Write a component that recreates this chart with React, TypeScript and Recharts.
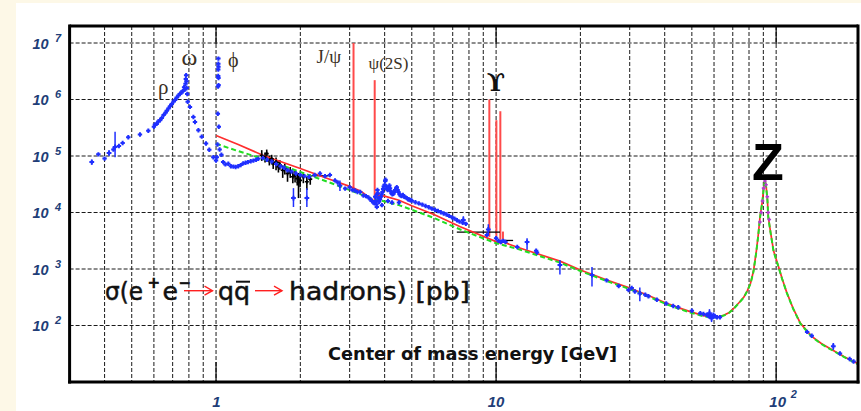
import React from "react";
import {
  ComposedChart,
  XAxis,
  YAxis,
  CartesianGrid,
  Line,
  Scatter,
  ErrorBar,
  ReferenceLine,
} from "recharts";

// ---------- axes ----------
const X_DOMAIN: [number, number] = [0.3, 196];
const Y_DOMAIN: [number, number] = [10, 2e7];
const xGridTicks = [0.4, 0.5, 0.6, 0.7, 0.8, 0.9, 1, 2, 3, 4, 5, 6, 7, 8, 9, 10, 20, 30, 40, 50, 60, 70, 80, 90, 100];
const xMajorTicks = [1, 10, 100];
const yDecadeTicks = [1e2, 1e3, 1e4, 1e5, 1e6, 1e7];
const yMinorTicks = [
  20, 30, 40, 50, 60, 70, 80, 90,
  200, 300, 400, 500, 600, 700, 800, 900,
  2000, 3000, 4000, 5000, 6000, 7000, 8000, 9000,
  2e4, 3e4, 4e4, 5e4, 6e4, 7e4, 8e4, 9e4,
  2e5, 3e5, 4e5, 5e5, 6e5, 7e5, 8e5, 9e5,
  2e6, 3e6, 4e6, 5e6, 6e6, 7e6, 8e6, 9e6,
];

// ---------- data: [E (GeV), sigma (pb)] ----------
const blueData: [number, number][] = [
  [0.38, 1.07e5], [0.40, 9.0e4], [0.43, 1.3e5], [0.45, 1.5e5], [0.464, 1.7e5], [0.486, 2.15e5],
  [0.535, 2.4e5], [0.573, 2.8e5], [0.60, 3.3e5], [0.605, 3.6e5], [0.614, 3.7e5], [0.622, 4.1e5],
  [0.631, 4.3e5], [0.64, 4.7e5], [0.65, 5.3e5], [0.66, 5.8e5], [0.667, 6.3e5], [0.676, 6.9e5],
  [0.685, 7.6e5], [0.695, 8.3e5], [0.705, 9.2e5], [0.714, 9.8e5], [0.724, 1.08e6], [0.734, 1.18e6],
  [0.744, 1.26e6], [0.752, 1.33e6], [0.76, 1.4e6], [0.769, 1.65e6], [0.774, 1.5e6], [0.778, 1.9e6],
  [0.780, 2.3e6], [0.782, 2.7e6], [0.784, 2.1e6], [0.786, 1.6e6], [0.789, 1.25e6], [0.792, 9.1e5],
  [0.807, 7.4e5], [0.83, 4.9e5], [0.841, 4.0e5], [0.865, 2.85e5], [0.889, 2.2e5], [0.921, 1.66e5],
  [0.946, 1.29e5], [0.978, 9.5e4], [1.0, 8.3e4],
  [1.006, 9.5e4], [1.012, 1.6e5], [1.015, 5.6e5], [1.017, 1.7e6], [1.018, 2.6e6], [1.0185, 3.4e6],
  [1.019, 4.3e6], [1.0195, 5.3e6], [1.020, 3.8e6], [1.0205, 2.4e6], [1.021, 1.8e6], [1.023, 3.3e5],
  [1.03, 1.3e5], [1.045, 1.05e5],
  [1.06, 7.8e4], [1.08, 7.1e4], [1.106, 7.3e4], [1.13, 6.6e4], [1.153, 6.5e4], [1.175, 6.4e4],
  [1.2, 6.6e4], [1.225, 6.9e4], [1.25, 7.4e4], [1.275, 7.6e4], [1.30, 7.8e4], [1.33, 8.1e4],
  [1.36, 8.3e4], [1.39, 8.6e4], [1.415, 8.9e4],
  [1.47, 9.2e4], [1.52, 8.6e4], [1.58, 8.0e4], [1.64, 7.2e4], [1.7, 6.6e4], [1.75, 6.2e4],
  [1.80, 5.6e4], [1.86, 5.3e4], [1.93, 4.9e4], [2.0, 4.6e4], [2.07, 4.4e4], [2.15, 4.3e4],
  [2.25, 4.6e4], [2.35, 4.9e4], [2.45, 4.4e4], [2.55, 4.6e4], [2.66, 3.7e4], [2.72, 3.4e4],
  [2.89, 2.65e4], [3.0, 2.8e4], [3.07, 2.5e4], [3.13, 2.45e4], [3.2, 2.3e4], [3.27, 2.3e4],
  [3.36, 2.0e4], [3.43, 1.95e4], [3.50, 1.85e4], [3.56, 1.7e4], [3.60, 1.6e4], [3.65, 1.5e4],
  [3.68, 1.45e4], [3.70, 1.9e4], [3.72, 1.6e4], [3.74, 1.4e4], [3.75, 1.25e4], [3.76, 2.1e4],
  [3.77, 2.5e4], [3.78, 2.2e4], [3.80, 1.8e4], [3.82, 1.55e4], [3.85, 1.7e4], [3.88, 1.9e4],
  [3.90, 2.1e4], [3.91, 1.35e4], [3.93, 2.3e4], [3.95, 2.6e4], [3.97, 2.9e4], [4.0, 3.1e4],
  [4.02, 3.6e4], [4.03, 3.8e4], [4.05, 2.9e4], [4.08, 2.6e4], [4.10, 2.5e4], [4.11, 1.6e4],
  [4.13, 2.8e4], [4.16, 3.0e4], [4.18, 2.7e4], [4.2, 2.4e4], [4.23, 2.2e4], [4.25, 1.5e4],
  [4.26, 2.1e4], [4.3, 2.15e4], [4.33, 2.3e4], [4.36, 2.5e4], [4.40, 2.7e4], [4.42, 2.8e4],
  [4.45, 2.5e4], [4.48, 2.3e4], [4.5, 1.5e4], [4.52, 2.1e4], [4.56, 2.0e4], [4.6, 1.95e4],
  [4.65, 2.05e4], [4.70, 1.9e4], [4.75, 1.85e4], [4.8, 1.8e4], [4.85, 1.72e4], [4.9, 1.7e4],
  [4.95, 1.65e4],
  [5.0, 1.62e4], [5.15, 1.52e4], [5.3, 1.45e4], [5.45, 1.38e4], [5.6, 1.3e4], [5.75, 1.24e4],
  [5.9, 1.17e4], [6.05, 1.12e4], [6.2, 1.06e4], [6.35, 1.01e4], [6.5, 9.6e3], [6.65, 9.2e3],
  [6.8, 8.7e3], [6.95, 8.2e3], [7.1, 7.8e3], [7.25, 7.3e3], [7.4, 6.9e3], [7.6, 6.6e3], [7.8, 6.3e3],
  [9.27, 4.0e3], [10.0, 3.5e3], [10.2, 3.15e3], [10.4, 3.0e3], [10.6, 3.15e3], [10.8, 3.0e3],
  [11.9, 2.45e3], [13.9, 2.1e3], [14.0, 1.95e3],
  [24.8, 6.3e2], [27.4, 5.0e2], [29.7, 4.25e2], [30.5, 4.6e2], [31.3, 4.0e2], [34.1, 3.5e2],
  [35.0, 3.3e2], [37.5, 2.85e2], [40.5, 2.45e2], [42.9, 2.22e2], [44.7, 2.1e2], [50.0, 1.82e2],
  [53.6, 1.65e2], [55.0, 1.6e2], [56.5, 1.55e2], [57.5, 1.45e2], [58.3, 1.5e2], [59.2, 1.42e2],
  [59.7, 1.55e2], [60.5, 1.45e2], [61.5, 1.4e2], [63.0, 1.4e2],
  [129, 77], [134, 66], [169, 32], [183, 25.5], [189, 23],
];

// [E, sigma, errLow, errHigh]
const blueErrData: [number, number, number, number][] = [
  [0.36, 7.8e4, 0.8e4, 0.9e4], [0.415, 1.13e5, 1.2e4, 1.4e4], [0.436, 1.45e5, 5.0e4, 1.25e5],
  [1.89, 1.8e4, 5.5e3, 9.0e3], [2.11, 1.8e4, 5.5e3, 9.0e3], [2.77, 3.0e4, 6.0e3, 7.0e3],
  [7.64, 7.4e3, 1.0e3, 1.2e3], [9.38, 5.0e3, 1.0e3, 1.2e3], [12.9, 3.0e3, 8.0e2, 5.0e2],
  [16.9, 1.18e3, 3.8e2, 2.7e2], [22.0, 7.8e2, 2.9e2, 3.1e2], [32.6, 3.7e2, 1.0e2, 1.0e2],
  [57.8, 1.65e2, 3.0e1, 3.0e1], [58.8, 1.35e2, 2.0e1, 2.0e1], [160, 43, 6, 6],
];

const blackErrData: [number, number, number, number][] = [
  [1.456, 1.02e5, 2.0e4, 2.5e4], [1.496, 9.5e4, 1.8e4, 2.0e4], [1.517, 1.1e5, 2.0e4, 2.0e4],
  [1.55, 8.3e4, 1.5e4, 1.8e4], [1.58, 8.9e4, 1.8e4, 1.6e4], [1.60, 7.4e4, 1.5e4, 1.8e4],
  [1.638, 7.8e4, 2.2e4, 1.6e4], [1.67, 6.5e4, 1.4e4, 1.6e4], [1.69, 6.9e4, 1.2e4, 1.5e4],
  [1.73, 5.6e4, 1.5e4, 1.2e4], [1.76, 6.0e4, 1.3e4, 1.3e4], [1.80, 4.9e4, 1.4e4, 1.1e4],
  [1.84, 5.2e4, 1.1e4, 1.2e4], [1.88, 4.3e4, 1.0e4, 1.0e4], [1.915, 4.6e4, 1.2e4, 1.0e4],
  [1.95, 4.0e4, 1.0e4, 1.0e4], [1.97, 3.4e4, 1.6e4, 1.6e4], [1.995, 3.7e4, 9.0e3, 9.0e3],
  [2.05, 4.3e4, 1.0e4, 8.0e3], [2.11, 3.5e4, 1.0e4, 8.0e3], [2.17, 3.9e4, 8.0e3, 8.0e3],
];

const zPeakData: [number, number][] = [
  [87.5, 6.8e3], [88.5, 1.0e4], [89.4, 1.6e4], [90.2, 2.7e4], [91.2, 3.6e4], [92.0, 3.1e4],
  [93.0, 1.9e4], [93.7, 1.0e4], [94.5, 7.5e3],
];

// horizontal error bars: [Emin, Emax, sigma]
const hSegments: [number, number, number][] = [
  [2.17, 2.55, 4.47e4],
  [7.24, 10.33, 4.5e3],
  [10.45, 11.5, 3.2e3],
];

const redCurve: [number, number][] = [
  [1.0, 2.3e5], [1.2, 1.6e5], [1.475, 1.02e5], [2.0, 6.0e4], [2.5, 4.0e4], [3.0, 2.9e4],
  [3.3, 2.35e4], [3.6, 1.7e4], [3.74, 1.48e4], [3.8, 2.0e4], [4.0, 1.95e4], [4.5, 1.65e4],
  [5.0, 1.32e4], [6.0, 9.2e3], [7.45, 5.6e3], [10.0, 3.05e3], [10.4, 2.85e3], [10.6, 3.0e3],
  [12, 2.4e3], [16.9, 1.38e3], [20, 9.6e2], [25, 6.3e2], [29.7, 4.7e2], [35, 3.4e2],
  [40, 2.55e2], [45, 2.05e2], [49.3, 1.76e2], [55, 1.5e2], [58.8, 1.42e2], [62, 1.43e2],
  [65, 1.52e2], [68, 1.7e2], [70.5, 2.0e2], [73.5, 2.5e2], [76.7, 3.2e2], [79, 4.2e2],
  [81, 5.6e2], [83, 9.2e2], [85, 2.1e3], [86.3, 4.0e3], [87.5, 8.0e3], [89.4, 1.66e4],
  [90.3, 2.8e4], [91.2, 3.8e4], [92.1, 2.9e4], [93.1, 1.66e4], [93.7, 8.5e3], [95.5, 4.5e3],
  [97.9, 2.1e3], [102, 1.1e3], [105, 6.8e2], [109, 3.9e2], [115, 2.0e2], [122, 1.1e2],
  [134, 64], [145, 48], [160, 36], [175, 28], [196, 21],
];

const greenCurve: [number, number][] = [
  [1.0, 1.65e5], [1.2, 1.22e5], [1.5, 8.7e4], [2.0, 5.2e4], [2.5, 3.5e4], [3.0, 2.5e4],
  [3.5, 1.85e4], [3.72, 1.62e4], [3.8, 1.68e4], [4.5, 1.35e4], [5.0, 1.12e4], [6.0, 8.0e3],
  [7.45, 5.0e3], [10.0, 2.85e3], [12, 2.25e3], [16.9, 1.3e3], [20, 9.2e2], [25, 6.05e2],
  [29.7, 4.5e2], [35, 3.25e2], [40, 2.45e2], [45, 1.97e2], [49.3, 1.7e2], [55, 1.46e2],
  [58.8, 1.38e2], [62, 1.4e2], [65, 1.5e2], [68, 1.68e2], [70.5, 1.97e2], [73.5, 2.47e2],
  [76.7, 3.15e2], [79, 4.15e2], [81, 5.5e2], [83, 9.0e2], [85, 2.05e3], [86.3, 3.9e3],
  [87.5, 7.8e3], [89.4, 1.62e4], [90.3, 2.75e4], [91.2, 3.7e4], [92.1, 2.85e4], [93.1, 1.62e4],
  [93.7, 8.3e3], [95.5, 4.4e3], [97.9, 2.05e3], [102, 1.08e3], [105, 6.7e2], [109, 3.85e2],
  [115, 1.98e2], [122, 1.08e2], [134, 63], [145, 47], [160, 35.5], [175, 27.5], [196, 20.5],
];

// narrow resonances: [mass (GeV), sigma at base, sigma at peak]
const resonances: [number, number, number][] = [
  [3.097, 2.5e4, 1.0e7],
  [3.686, 1.55e4, 2.2e6],
  [9.46, 3.7e3, 1.0e6],
  [10.023, 3.4e3, 4.3e5],
  [10.355, 3.3e3, 6.2e5],
  [10.58, 3.4e3, 4.6e3],
];

// ---------- helpers ----------
const pts = (a: [number, number][]) => a.map(([x, y]) => ({ x, y }));
const errPts = (a: [number, number, number, number][]) =>
  a.map(([x, y, lo, hi]) => ({ x, y, err: [lo, hi] }));

const cross = (color: string, arm: number, sw: number) => (props: any) => {
  const { cx, cy } = props;
  if (cx == null || cy == null || isNaN(cx) || isNaN(cy)) return <g />;
  return (
    <path
      d={`M${cx - arm},${cy}H${cx + arm}M${cx},${cy - arm}V${cy + arm}`}
      stroke={color}
      strokeWidth={sw}
      fill="none"
    />
  );
};

const PLOT_H = 356;
const TICK_COLOR = "#213d77";
const TICK_FONT = "'Liberation Sans', Arial, sans-serif";

const YTick = (props: any) => {
  const { x, y, payload } = props;
  const exp = Math.round(Math.log10(payload.value));
  return (
    <g fill={TICK_COLOR} fontFamily={TICK_FONT} fontWeight="bold" fontStyle="italic">
      <text x={x - 21} y={y + 5.5} textAnchor="end" fontSize={14.5}>10</text>
      <text x={x - 14.5} y={y - 1.5} fontSize={11}>{exp}</text>
    </g>
  );
};

const XTick = (props: any) => {
  const { x, y, payload } = props;
  const v = payload.value;
  let label: React.ReactNode = null;
  if (v === 1) {
    label = <text x={x + 0.5} y={y + 24.5} textAnchor="middle" fontSize={15}>1</text>;
  } else if (v === 10) {
    label = <text x={x} y={y + 24.5} textAnchor="middle" fontSize={15}>10</text>;
  } else if (v === 100) {
    label = (
      <g>
        <text x={x + 1.5} y={y + 24.5} textAnchor="middle" fontSize={15}>10</text>
        <text x={x + 14.5} y={y + 16} fontSize={11}>2</text>
      </g>
    );
  }
  const major = v === 1 || v === 10 || v === 100;
  return (
    <g fill={TICK_COLOR} fontFamily={TICK_FONT} fontWeight="bold" fontStyle="italic">
      {major && <line x1={x} x2={x} y1={y} y2={y - 20} stroke="#000" strokeWidth={1.2} />}
      {major && <line x1={x} x2={x} y1={y - PLOT_H} y2={y - PLOT_H + 18} stroke="#000" strokeWidth={1.2} />}
      {label}
    </g>
  );
};

const BORDER = { stroke: "#000", strokeWidth: 3, strokeLinecap: "square" as const };

function Arrow({ x1, x2, y }: { x1: number; x2: number; y: number }) {
  return (
    <g stroke="#ff2020" strokeWidth={1.4} fill="none">
      <line x1={x1} y1={y} x2={x2} y2={y} />
      <path d={`M${x2 - 8},${y - 4.5}L${x2},${y}L${x2 - 8},${y + 4.5}`} />
    </g>
  );
}

export default function App() {
  const blue = pts(blueData);
  const blueErr = errPts(blueErrData);
  const black = errPts(blackErrData);
  const zPeak = pts(zPeakData);
  const red = pts(redCurve);
  const green = pts(greenCurve);
  const serif = "'Liberation Serif', 'DejaVu Serif', serif";
  return (
    <div
      style={{
        position: "absolute",
        left: 0,
        top: 0,
        width: 861,
        height: 411,
        background: "#fdf8e7",
        overflow: "hidden",
      }}
    >
      <div style={{ position: "absolute", left: 16, top: 3, right: 0, bottom: 0, background: "#ffffff" }} />
      <div style={{ position: "absolute", left: 0, top: 0 }}>
        <ComposedChart width={861} height={411} margin={{ top: 26, right: 3, bottom: 0, left: 68.6 }}>
          <CartesianGrid stroke="#1a1a1a" strokeDasharray="4 2" strokeWidth={1} />
          <XAxis
            dataKey="x"
            type="number"
            scale="log"
            domain={X_DOMAIN}
            allowDataOverflow
            ticks={xGridTicks}
            interval={0}
            height={29}
            tickSize={0}
            tickMargin={0}
            tickLine={false}
            tick={(p: any) => <XTick {...p} />}
            axisLine={BORDER}
          />
          <YAxis
            dataKey="y"
            type="number"
            scale="log"
            domain={Y_DOMAIN}
            allowDataOverflow
            ticks={yDecadeTicks}
            interval={0}
            width={1}
            tickSize={0}
            tickMargin={0}
            tickLine={false}
            tick={(p: any) => <YTick {...p} />}
            axisLine={BORDER}
          />
          <YAxis
            yAxisId="minL"
            orientation="left"
            type="number"
            scale="log"
            domain={Y_DOMAIN}
            allowDataOverflow
            ticks={yMinorTicks}
            interval={0}
            width={1}
            mirror
            tick={false}
            tickSize={6}
            tickLine={{ stroke: "#000", strokeWidth: 1.2 }}
            axisLine={false}
          />
          <YAxis
            yAxisId="minR"
            orientation="right"
            type="number"
            scale="log"
            domain={Y_DOMAIN}
            allowDataOverflow
            ticks={yMinorTicks}
            interval={0}
            width={1}
            mirror
            tick={false}
            tickSize={6}
            tickLine={{ stroke: "#000", strokeWidth: 1.2 }}
            axisLine={BORDER}
          />

          {/* top frame edge */}
          <ReferenceLine y={Y_DOMAIN[1]} stroke="#000" strokeWidth={3} ifOverflow="visible" />

          {resonances.map(([m, lo, hi], i) => (
            <ReferenceLine
              key={"res" + i}
              segment={[{ x: m, y: lo }, { x: m, y: hi }]}
              stroke="#ff4a4a"
              strokeWidth={2}
              ifOverflow="visible"
            />
          ))}
          {hSegments.map(([a, b, s], i) => (
            <ReferenceLine
              key={"hs" + i}
              segment={[{ x: a, y: s }, { x: b, y: s }]}
              stroke="#000"
              strokeWidth={1.3}
              ifOverflow="visible"
            />
          ))}

          <Scatter data={black} dataKey="y" shape={cross("#000000", 2, 1.6)} isAnimationActive={false}>
            <ErrorBar dataKey="err" direction="y" width={0} stroke="#000" strokeWidth={1.6} />
          </Scatter>
          <Line
            data={red}
            dataKey="y"
            type="linear"
            stroke="#ff2e2e"
            strokeWidth={1.7}
            dot={false}
            activeDot={false}
            isAnimationActive={false}
          />
          <Line
            data={green}
            dataKey="y"
            type="linear"
            stroke="#22dd22"
            strokeWidth={2}
            strokeDasharray="5 3"
            dot={false}
            activeDot={false}
            isAnimationActive={false}
          />
          <Scatter data={blue} dataKey="y" shape={cross("#1f2fff", 2.2, 2)} isAnimationActive={false} />
          <Scatter data={blueErr} dataKey="y" shape={cross("#1f2fff", 2.4, 2)} isAnimationActive={false}>
            <ErrorBar dataKey="err" direction="y" width={0} stroke="#1f2fff" strokeWidth={1.5} />
          </Scatter>
          <Scatter data={zPeak} dataKey="y" shape={cross("#b43cd2", 1.8, 1.6)} isAnimationActive={false} />
        </ComposedChart>
      </div>

      <svg
        width={861}
        height={411}
        style={{ position: "absolute", left: 0, top: 0, pointerEvents: "none" }}
      >
        {/* resonance labels */}
        <g fill="#3a3024" fontFamily={serif}>
          <text x={158} y={93.5} fontSize={21}>ρ</text>
          <text x={181.5} y={65} fontSize={24}>ω</text>
          <text x={228} y={67} fontSize={20}>ϕ</text>
          <text x={316.5} y={63} fontSize={19}>J/ψ</text>
          <text x={368.5} y={69} fontSize={17}>ψ(2S)</text>
        </g>
        <text x={496} y={90.5} fontSize={24} fontWeight="bold" textAnchor="middle" fill="#111" fontFamily="'DejaVu Serif', serif">ϒ</text>
        <text x={768} y={180} fontSize={52} fontWeight="bold" textAnchor="middle" fill="#000" fontFamily="'Liberation Sans', Arial, sans-serif">Z</text>

        {/* process formula */}
        <g fill="#111" stroke="#111" strokeWidth={0.5} fontFamily="'DejaVu Sans', sans-serif">
          <text x={105} y={300} fontSize={24} textLength={38} lengthAdjust="spacingAndGlyphs">σ(e</text>
          <text x={147.5} y={287.5} fontSize={15} fontWeight="bold">+</text>
          <text x={162.5} y={300} fontSize={24} textLength={15.5} lengthAdjust="spacingAndGlyphs">e</text>
          <text x={178.5} y={288} fontSize={15} fontWeight="bold">−</text>
          <text x={218} y={300} fontSize={24} textLength={32} lengthAdjust="spacingAndGlyphs">qq</text>
          <text x={289} y={300} fontSize={24} textLength={181} lengthAdjust="spacingAndGlyphs">hadrons) [pb]</text>
        </g>
        <line x1={236} x2={250} y1={281.7} y2={281.7} stroke="#111" strokeWidth={2} />
        <Arrow x1={184} x2={212.5} y={290.7} />
        <Arrow x1={255} x2={282} y={290.7} />

        {/* axis title */}
        <text
          x={328}
          y={360}
          fontSize={17}
          fontWeight="bold"
          fill="#111"
          fontFamily="'DejaVu Sans', sans-serif"
          textLength={289}
          lengthAdjust="spacingAndGlyphs"
        >
          Center of mass energy [GeV]
        </text>
      </svg>
    </div>
  );
}
